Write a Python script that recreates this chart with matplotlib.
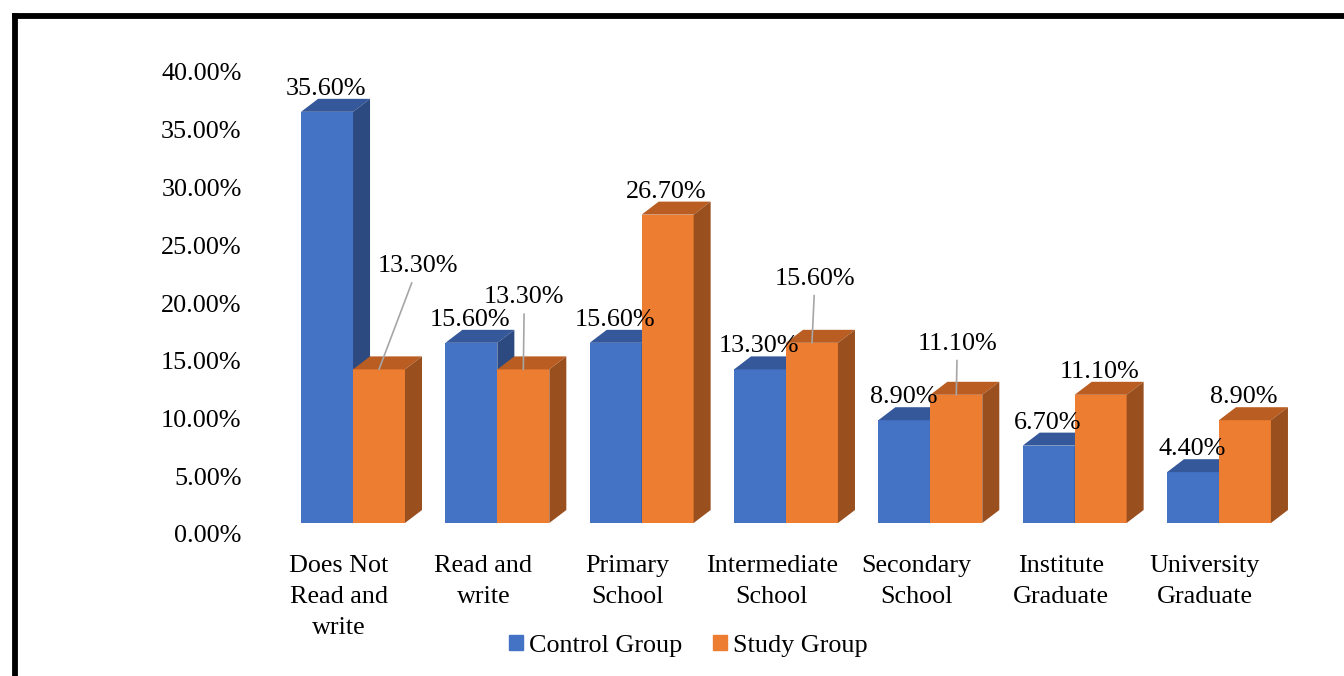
import matplotlib.pyplot as plt
import matplotlib.transforms as mtransforms
from matplotlib.patches import Polygon, Patch
from matplotlib.lines import Line2D

categories = ["Does Not\nRead and\nwrite", "Read and\nwrite", "Primary\nSchool",
              "Intermediate\nSchool", "Secondary\nSchool", "Institute\nGraduate",
              "University\nGraduate"]
control = [35.6, 15.6, 15.6, 13.3, 8.9, 6.7, 4.4]
study = [13.3, 13.3, 26.7, 15.6, 11.1, 11.1, 8.9]
yticks = [0, 5, 10, 15, 20, 25, 30, 35, 40]

plt.rcParams['font.family'] = ['Liberation Serif', 'DejaVu Serif']
fs = 18.8

fig = plt.figure(figsize=(13.44, 6.76), dpi=100)
ax = fig.add_axes([250 / 1344, 153 / 676, 1070 / 1344, 462 / 676])

w = 0.36
dx, dy = 0.118, 1.125
series = [
    (control, -w / 2, '#4472C4', '#34589A', '#2C4A80', 2),
    (study, w / 2, '#ED7D31', '#B95D22', '#9A4F1E', 3),
]
x = list(range(len(categories)))

for vals, off, front, top, side, z in series:
    xs = [i + off for i in x]
    ax.bar(xs, vals, width=w, color=front, zorder=z, edgecolor='none')
    for xc, v in zip(xs, vals):
        x0, x1 = xc - w / 2, xc + w / 2
        ax.add_patch(Polygon([(x0, v), (x0 + dx, v + dy), (x1 + dx, v + dy), (x1, v)],
                             closed=True, facecolor=top, edgecolor='none', zorder=z, clip_on=False))
        ax.add_patch(Polygon([(x1, 0), (x1 + dx, dy), (x1 + dx, v + dy), (x1, v)],
                             closed=True, facecolor=side, edgecolor='none', zorder=z, clip_on=False))

# data label offsets in pixels (moved labels get a leader line)
moved = {(1, 0): (39, 103), (1, 1): (1, 72), (1, 3): (3, 64), (1, 4): (1, 51)}
for s, (vals, off, *_rest) in enumerate(series):
    for i, v in enumerate(vals):
        xy = (i + off, v)
        if (s, i) in moved:
            ax.annotate(f"{v:.2f}%", xy=xy, xytext=moved[(s, i)], textcoords='offset pixels',
                        ha='center', va='center', fontsize=fs, zorder=5,
                        arrowprops=dict(arrowstyle='-', color='#A6A6A6', lw=1.2,
                                        shrinkA=2, shrinkB=0))
        else:
            ax.annotate(f"{v:.2f}%", xy=xy, xytext=(-1, 23), textcoords='offset pixels',
                        ha='center', va='center', fontsize=fs, zorder=5)

ax.set_xlim(-0.7137, 6.700)
ax.set_ylim(0, 40)
ax.set_yticks(yticks)
ax.set_yticklabels([f"{t:.2f}%" for t in yticks], fontsize=fs)
ax.set_xticks(x)
ax.set_xticklabels(categories, fontsize=fs, linespacing=1.52)
ax.tick_params(length=0)
ax.tick_params(axis='y', pad=6)
ax.tick_params(axis='x', pad=23)
for lab in ax.get_yticklabels():
    lab.set_transform(lab.get_transform() + mtransforms.ScaledTranslation(0, -0.11, fig.dpi_scale_trans))
for lab in ax.get_xticklabels():
    lab.set_transform(lab.get_transform() + mtransforms.ScaledTranslation(-0.14, 0, fig.dpi_scale_trans))
for sp in ax.spines.values():
    sp.set_visible(False)

handles = [Patch(color='#4472C4', label='Control Group'), Patch(color='#ED7D31', label='Study Group')]
fig.legend(handles=handles, loc='center', bbox_to_anchor=(0.512, 0.045), ncol=2, frameon=False,
           fontsize=fs, handlelength=0.55, handleheight=0.55, handletextpad=0.2, columnspacing=1.2)

fig.add_artist(Line2D([0.0108, 0.0108], [0, 0.977], color='black', lw=4.2))
fig.add_artist(Line2D([0.0108, 1.0], [0.977, 0.977], color='black', lw=4.2, solid_capstyle='projecting'))

plt.savefig('out.png', dpi=100)
